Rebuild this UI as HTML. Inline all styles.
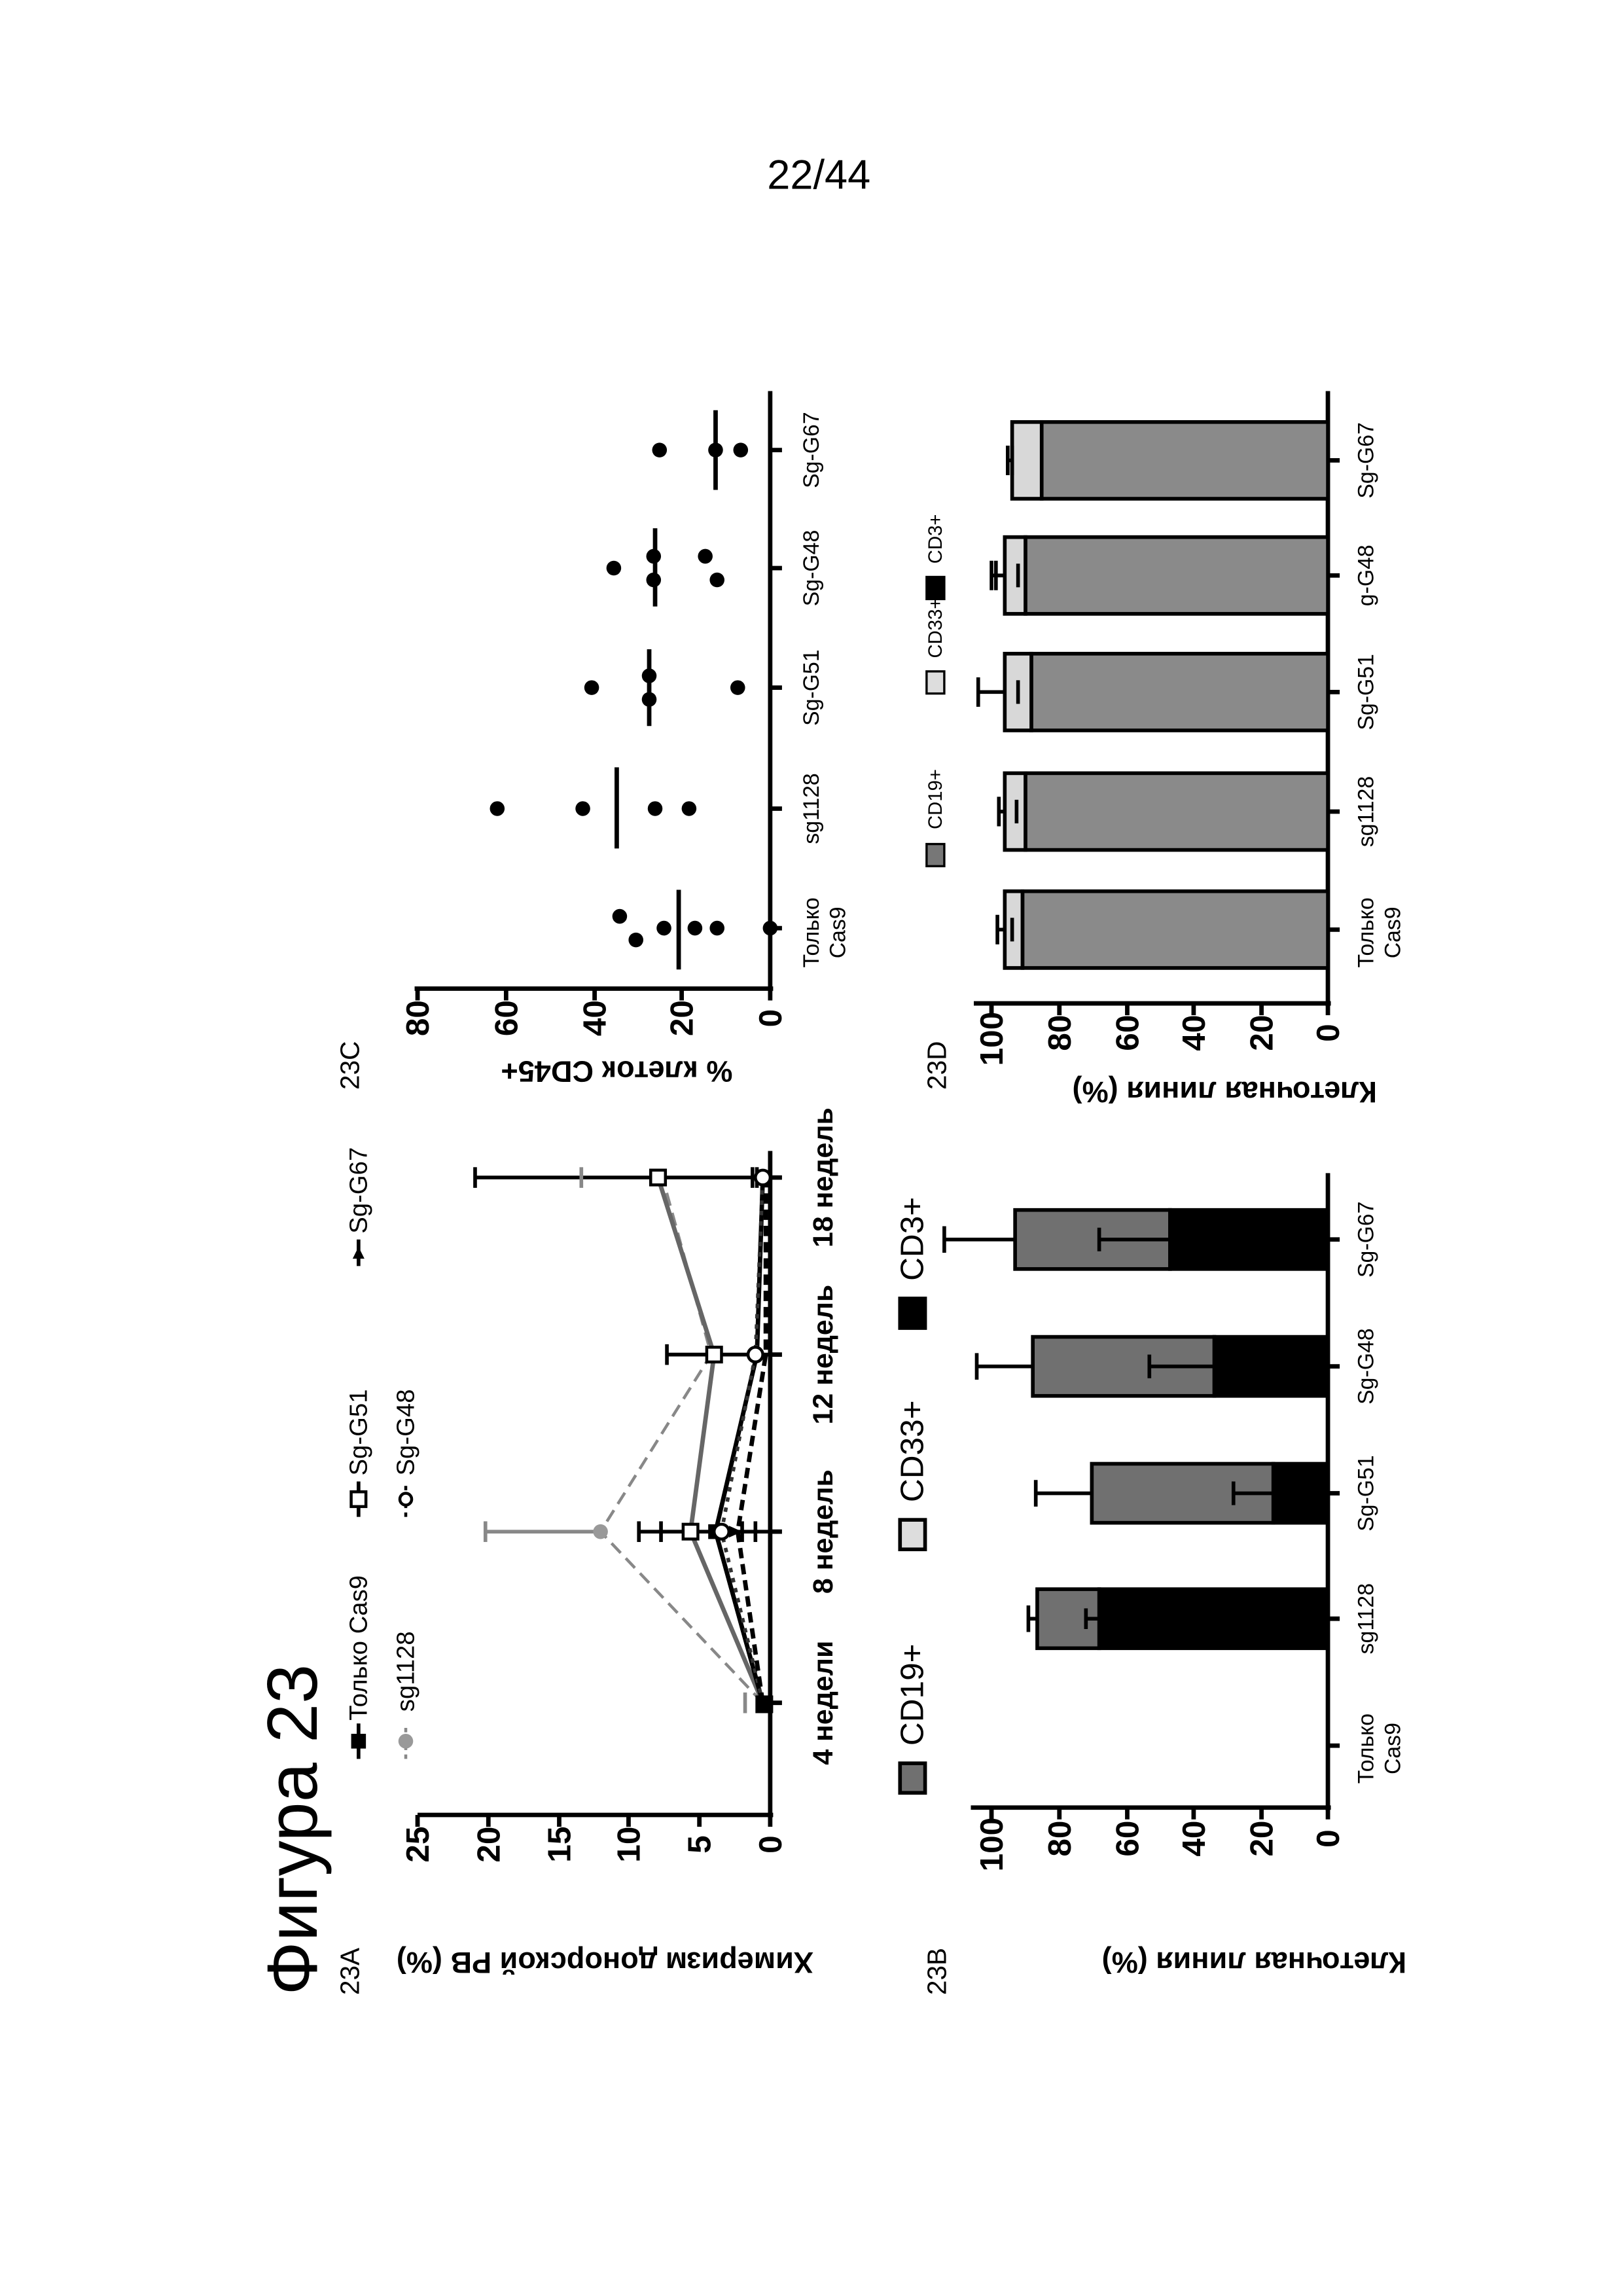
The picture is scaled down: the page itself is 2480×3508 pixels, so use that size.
<!DOCTYPE html>
<html><head><meta charset="utf-8"><style>
html,body{margin:0;padding:0;background:#fff}
svg{display:block}
text{font-family:"Liberation Sans","DejaVu Sans",sans-serif;fill:#000}
.n{font-family:"Liberation Sans Narrow","Liberation Sans",sans-serif}
.b{font-weight:bold}
</style></head><body>
<svg width="2480" height="3508" viewBox="0 0 1100 1556" xmlns="http://www.w3.org/2000/svg">
<rect width="1100" height="1556" fill="#fff"/>
<text x="555" y="128" font-size="28" text-anchor="middle" class="n">22/44</text>

<text transform="translate(198,1240) rotate(-90)" font-size="48" text-anchor="middle" dominant-baseline="central">Фигура 23</text>
<text transform="translate(237,1336) rotate(-90)" font-size="18" text-anchor="middle" dominant-baseline="central" class="n">23A</text>
<text transform="translate(635,1336) rotate(-90)" font-size="18" text-anchor="middle" dominant-baseline="central" class="n">23B</text>
<text transform="translate(237,722) rotate(-90)" font-size="18" text-anchor="middle" dominant-baseline="central" class="n">23C</text>
<text transform="translate(635,722) rotate(-90)" font-size="18" text-anchor="middle" dominant-baseline="central" class="n">23D</text>

<!-- 23A -->
<g stroke="#000" stroke-width="3" fill="none">
<line x1="283" y1="1230" x2="524" y2="1230"/>
<line x1="522" y1="1232" x2="522" y2="780"/>
<line x1="283" y1="1230" x2="283" y2="1238"/><line x1="331" y1="1230" x2="331" y2="1238"/><line x1="379" y1="1230" x2="379" y2="1238"/><line x1="426" y1="1230" x2="426" y2="1238"/><line x1="474" y1="1230" x2="474" y2="1238"/><line x1="522" y1="1230" x2="522" y2="1238"/>
<line x1="522" y1="1154" x2="530" y2="1154"/><line x1="522" y1="1038" x2="530" y2="1038"/><line x1="522" y1="918" x2="530" y2="918"/><line x1="522" y1="798" x2="530" y2="798"/>
</g>
<g font-size="22" class="b" text-anchor="middle" dominant-baseline="central">
<text transform="translate(283,1250) rotate(-90)">25</text><text transform="translate(331,1250) rotate(-90)">20</text><text transform="translate(379,1250) rotate(-90)">15</text><text transform="translate(426,1250) rotate(-90)">10</text><text transform="translate(474,1250) rotate(-90)">5</text><text transform="translate(522,1250) rotate(-90)">0</text>
<text transform="translate(558,1154) rotate(-90)" font-size="19">4 недели</text>
<text transform="translate(558,1038) rotate(-90)" font-size="19">8 недель</text>
<text transform="translate(558,918) rotate(-90)" font-size="19">12 недель</text>
<text transform="translate(558,798) rotate(-90)" font-size="19">18 недель</text>
<text transform="translate(410,1330) rotate(180)" font-size="20">Химеризм донорской PB (%)</text>
</g>
<g stroke="#000" stroke-width="2.5">
<line x1="433" y1="1038" x2="522" y2="1038"/><line x1="433" y1="1031" x2="433" y2="1045"/>
<line x1="448" y1="1031" x2="448" y2="1045"/>
<line x1="503" y1="1031" x2="503" y2="1045"/><line x1="512" y1="1031" x2="512" y2="1045"/>
<line x1="452" y1="918" x2="522" y2="918"/><line x1="452" y1="911" x2="452" y2="925"/>
<line x1="322" y1="798" x2="522" y2="798"/><line x1="322" y1="791" x2="322" y2="805"/>
<line x1="510" y1="791" x2="510" y2="805"/><line x1="513" y1="791" x2="513" y2="805"/>
</g>
<g stroke="#888" stroke-width="2.5">
<line x1="329" y1="1038" x2="408" y2="1038"/><line x1="329" y1="1031" x2="329" y2="1045"/>
<line x1="394" y1="791" x2="394" y2="805"/>
<line x1="505" y1="1147" x2="505" y2="1161"/>
</g>
<polyline points="517,1154 407,1038 482,918 449,798" fill="none" stroke="#888" stroke-width="2" stroke-dasharray="9,5"/>
<polyline points="517,1154 468,1038 484,918 446,798" fill="none" stroke="#666" stroke-width="3"/>
<polyline points="517,1154 485,1038 513,918 517,798" fill="none" stroke="#000" stroke-width="3"/>
<polyline points="517,1154 489,1038 512,918 517,798" fill="none" stroke="#333" stroke-width="2.5" stroke-dasharray="3,4"/>
<polyline points="517,1154 500,1038 519,918 519,798" fill="none" stroke="#000" stroke-width="3" stroke-dasharray="7,4"/>
<circle cx="407" cy="1038" r="5" fill="#999"/>
<rect x="512" y="1149" width="12" height="12" fill="#000"/>
<rect x="463" y="1033" width="10" height="10" fill="#fff" stroke="#000" stroke-width="2"/>
<rect x="479" y="913" width="10" height="10" fill="#fff" stroke="#000" stroke-width="2"/>
<rect x="441" y="793" width="10" height="10" fill="#fff" stroke="#000" stroke-width="2"/>
<rect x="480" y="1033" width="10" height="10" fill="#000"/>
<circle cx="489" cy="1038" r="5" fill="#fff" stroke="#000" stroke-width="2"/>
<circle cx="512" cy="918" r="5" fill="#fff" stroke="#000" stroke-width="2"/>
<circle cx="517" cy="798" r="5" fill="#fff" stroke="#000" stroke-width="2"/>
<polygon points="494,1034 494,1042 503,1038" fill="#000"/>
<g stroke="#000" stroke-width="2.5">
<line x1="243" y1="1192" x2="243" y2="1168"/><line x1="243" y1="1028" x2="243" y2="1004"/><line x1="243" y1="858" x2="243" y2="840"/>
</g>
<line x1="275" y1="1192" x2="275" y2="1168" stroke="#888" stroke-width="2" stroke-dasharray="3,3"/>
<line x1="275" y1="1028" x2="275" y2="1004" stroke="#000" stroke-width="2" stroke-dasharray="3,3"/>
<rect x="238" y="1175" width="10" height="10" fill="#000"/>
<rect x="238" y="1011" width="10" height="10" fill="#fff" stroke="#000" stroke-width="2"/>
<polygon points="239,853 247,853 243,845" fill="#000"/>
<circle cx="275" cy="1180" r="5" fill="#999"/>
<circle cx="275" cy="1016" r="4" fill="#fff" stroke="#000" stroke-width="2"/>
<g font-size="17" class="n" dominant-baseline="central">
<text transform="translate(243,1166) rotate(-90)">Только Cas9</text>
<text transform="translate(243,1000) rotate(-90)">Sg-G51</text>
<text transform="translate(243,836) rotate(-90)">Sg-G67</text>
<text transform="translate(275,1160) rotate(-90)">sg1128</text>
<text transform="translate(275,1000) rotate(-90)">Sg-G48</text>
</g>

<!-- 23B -->
<g stroke="#000" stroke-width="3" fill="none">
<line x1="658" y1="1225" x2="902" y2="1225"/>
<line x1="900" y1="1227" x2="900" y2="795"/>
<line x1="672" y1="1225" x2="672" y2="1233"/><line x1="718" y1="1225" x2="718" y2="1233"/><line x1="764" y1="1225" x2="764" y2="1233"/><line x1="809" y1="1225" x2="809" y2="1233"/><line x1="855" y1="1225" x2="855" y2="1233"/><line x1="900" y1="1225" x2="900" y2="1233"/>
<line x1="900" y1="1183" x2="908" y2="1183"/><line x1="900" y1="1097" x2="908" y2="1097"/><line x1="900" y1="1012" x2="908" y2="1012"/><line x1="900" y1="926" x2="908" y2="926"/><line x1="900" y1="840" x2="908" y2="840"/>
</g>
<g font-size="22" class="b" text-anchor="middle" dominant-baseline="central">
<text transform="translate(672,1250) rotate(-90)">100</text><text transform="translate(718,1246) rotate(-90)">80</text><text transform="translate(764,1246) rotate(-90)">60</text><text transform="translate(809,1246) rotate(-90)">40</text><text transform="translate(855,1246) rotate(-90)">20</text><text transform="translate(900,1246) rotate(-90)">0</text>
<text transform="translate(850,1330) rotate(180)" font-size="20">Клеточная линия (%)</text>
<text transform="translate(830,740) rotate(180)" font-size="20">Клеточная линия (%)</text>
<text transform="translate(418,726) rotate(180)" font-size="20">% клеток CD45+</text>
</g>
<g font-size="15" class="n" text-anchor="middle" dominant-baseline="central">
<text transform="translate(926,1185) rotate(-90)">Только</text><text transform="translate(944,1185) rotate(-90)">Cas9</text>
<text transform="translate(926,1097) rotate(-90)">sg1128</text>
<text transform="translate(926,1012) rotate(-90)">Sg-G51</text>
<text transform="translate(926,926) rotate(-90)">Sg-G48</text>
<text transform="translate(926,840) rotate(-90)">Sg-G67</text>
</g>
<g stroke="#000" stroke-width="2.5">
<rect x="745" y="1077" width="155" height="40" fill="#000"/>
<rect x="703" y="1077" width="42" height="40" fill="#707070"/>
<rect x="863" y="992" width="37" height="40" fill="#000"/>
<rect x="740" y="992" width="123" height="40" fill="#707070"/>
<rect x="823" y="906" width="77" height="40" fill="#000"/>
<rect x="700" y="906" width="123" height="40" fill="#707070"/>
<rect x="793" y="820" width="107" height="40" fill="#000"/>
<rect x="688" y="820" width="105" height="40" fill="#707070"/>
<line x1="697" y1="1097" x2="703" y2="1097"/><line x1="697" y1="1088" x2="697" y2="1106"/>
<line x1="736" y1="1097" x2="745" y2="1097"/><line x1="736" y1="1090" x2="736" y2="1104"/>
<line x1="702" y1="1012" x2="740" y2="1012"/><line x1="702" y1="1003" x2="702" y2="1021"/>
<line x1="836" y1="1012" x2="863" y2="1012"/><line x1="836" y1="1004" x2="836" y2="1020"/>
<line x1="662" y1="926" x2="700" y2="926"/><line x1="662" y1="917" x2="662" y2="935"/>
<line x1="779" y1="926" x2="823" y2="926"/><line x1="779" y1="918" x2="779" y2="934"/>
<line x1="640" y1="840" x2="688" y2="840"/><line x1="640" y1="831" x2="640" y2="849"/>
<line x1="745" y1="840" x2="793" y2="840"/><line x1="745" y1="832" x2="745" y2="848"/>
<rect x="610" y="1195" width="17" height="20" fill="#707070"/>
<rect x="610" y="1030" width="17" height="20" fill="#ddd"/>
<rect x="610" y="880" width="17" height="20" fill="#000"/>
</g>
<g font-size="22" class="n" dominant-baseline="central">
<text transform="translate(618,1183) rotate(-90)">CD19+</text>
<text transform="translate(618,1018) rotate(-90)">CD33+</text>
<text transform="translate(618,868) rotate(-90)">CD3+</text>
</g>

<!-- 23C -->
<g stroke="#000" stroke-width="3" fill="none">
<line x1="281" y1="670" x2="524" y2="670"/>
<line x1="522" y1="672" x2="522" y2="265"/>
<line x1="283" y1="670" x2="283" y2="678"/><line x1="343" y1="670" x2="343" y2="678"/><line x1="403" y1="670" x2="403" y2="678"/><line x1="462" y1="670" x2="462" y2="678"/><line x1="522" y1="670" x2="522" y2="678"/>
<line x1="522" y1="629" x2="530" y2="629"/><line x1="522" y1="548" x2="530" y2="548"/><line x1="522" y1="466" x2="530" y2="466"/><line x1="522" y1="385" x2="530" y2="385"/><line x1="522" y1="305" x2="530" y2="305"/>
</g>
<g font-size="22" class="b" text-anchor="middle" dominant-baseline="central">
<text transform="translate(283,690) rotate(-90)">80</text><text transform="translate(343,690) rotate(-90)">60</text><text transform="translate(403,690) rotate(-90)">40</text><text transform="translate(462,690) rotate(-90)">20</text><text transform="translate(522,690) rotate(-90)">0</text>
</g>
<g font-size="15" class="n" text-anchor="middle" dominant-baseline="central">
<text transform="translate(550,632) rotate(-90)">Только</text><text transform="translate(568,632) rotate(-90)">Cas9</text>
<text transform="translate(550,548) rotate(-90)">sg1128</text>
<text transform="translate(550,466) rotate(-90)">Sg-G51</text>
<text transform="translate(550,385) rotate(-90)">Sg-G48</text>
<text transform="translate(550,305) rotate(-90)">Sg-G67</text>
</g>
<g fill="#000">
<circle cx="522" cy="629" r="5"/><circle cx="486" cy="629" r="5"/><circle cx="471" cy="629" r="5"/><circle cx="450" cy="629" r="5"/><circle cx="431" cy="637" r="5"/><circle cx="420" cy="621" r="5"/>
<circle cx="337" cy="548" r="5"/><circle cx="395" cy="548" r="5"/><circle cx="444" cy="548" r="5"/><circle cx="467" cy="548" r="5"/>
<circle cx="401" cy="466" r="5"/><circle cx="440" cy="458" r="5"/><circle cx="440" cy="474" r="5"/><circle cx="500" cy="466" r="5"/>
<circle cx="416" cy="385" r="5"/><circle cx="443" cy="377" r="5"/><circle cx="443" cy="393" r="5"/><circle cx="478" cy="377" r="5"/><circle cx="486" cy="393" r="5"/>
<circle cx="447" cy="305" r="5"/><circle cx="485" cy="305" r="5"/><circle cx="502" cy="305" r="5"/>
</g>
<g stroke="#000" stroke-width="3">
<line x1="460" y1="603" x2="460" y2="657"/>
<line x1="418" y1="520" x2="418" y2="575"/>
<line x1="440" y1="440" x2="440" y2="492"/>
<line x1="444" y1="358" x2="444" y2="411"/>
<line x1="485" y1="278" x2="485" y2="332"/>
</g>

<!-- 23D -->
<g stroke="#000" stroke-width="3" fill="none">
<line x1="660" y1="680" x2="902" y2="680"/>
<line x1="900" y1="682" x2="900" y2="265"/>
<line x1="672" y1="680" x2="672" y2="688"/><line x1="718" y1="680" x2="718" y2="688"/><line x1="764" y1="680" x2="764" y2="688"/><line x1="809" y1="680" x2="809" y2="688"/><line x1="855" y1="680" x2="855" y2="688"/><line x1="900" y1="680" x2="900" y2="688"/>
<line x1="900" y1="630" x2="908" y2="630"/><line x1="900" y1="550" x2="908" y2="550"/><line x1="900" y1="469" x2="908" y2="469"/><line x1="900" y1="390" x2="908" y2="390"/><line x1="900" y1="312" x2="908" y2="312"/>
</g>
<g font-size="22" class="b" text-anchor="middle" dominant-baseline="central">
<text transform="translate(672,704) rotate(-90)">100</text><text transform="translate(718,700) rotate(-90)">80</text><text transform="translate(764,700) rotate(-90)">60</text><text transform="translate(809,700) rotate(-90)">40</text><text transform="translate(855,700) rotate(-90)">20</text><text transform="translate(900,700) rotate(-90)">0</text>
</g>
<g font-size="15" class="n" text-anchor="middle" dominant-baseline="central">
<text transform="translate(926,632) rotate(-90)">Только</text><text transform="translate(944,632) rotate(-90)">Cas9</text>
<text transform="translate(926,550) rotate(-90)">sg1128</text>
<text transform="translate(926,469) rotate(-90)">Sg-G51</text>
<text transform="translate(926,390) rotate(-90)">g-G48</text>
<text transform="translate(926,312) rotate(-90)">Sg-G67</text>
</g>
<g stroke="#000" stroke-width="2.5">
<rect x="693" y="604" width="207" height="52" fill="#8a8a8a"/><rect x="681" y="604" width="12" height="52" fill="#d8d8d8"/>
<rect x="695" y="524" width="205" height="52" fill="#8a8a8a"/><rect x="681" y="524" width="14" height="52" fill="#d8d8d8"/>
<rect x="699" y="443" width="201" height="52" fill="#8a8a8a"/><rect x="681" y="443" width="18" height="52" fill="#d8d8d8"/>
<rect x="695" y="364" width="205" height="52" fill="#8a8a8a"/><rect x="681" y="364" width="14" height="52" fill="#d8d8d8"/>
<rect x="706" y="286" width="194" height="52" fill="#8a8a8a"/><rect x="686" y="286" width="20" height="52" fill="#d8d8d8"/>
<line x1="676" y1="630" x2="681" y2="630"/><line x1="676" y1="620" x2="676" y2="640"/><line x1="686" y1="622" x2="686" y2="638"/>
<line x1="677" y1="550" x2="681" y2="550"/><line x1="677" y1="540" x2="677" y2="560"/><line x1="689" y1="542" x2="689" y2="558"/>
<line x1="663" y1="469" x2="681" y2="469"/><line x1="663" y1="459" x2="663" y2="479"/><line x1="690" y1="461" x2="690" y2="477"/>
<line x1="672" y1="390" x2="681" y2="390"/><line x1="672" y1="380" x2="672" y2="400"/><line x1="675" y1="380" x2="675" y2="400"/><line x1="690" y1="382" x2="690" y2="398"/>
<line x1="683" y1="312" x2="686" y2="312"/><line x1="683" y1="302" x2="683" y2="322"/><line x1="686" y1="302" x2="686" y2="322"/>
<rect x="628" y="572" width="12" height="15" fill="#777" stroke-width="1.5"/>
<rect x="628" y="455" width="12" height="15" fill="#ddd" stroke-width="1.5"/>
<rect x="628" y="391" width="12" height="15" fill="#000" stroke-width="1.5"/>
</g>
<g font-size="13" class="n" dominant-baseline="central" fill="#444">
<text transform="translate(634,562) rotate(-90)">CD19+</text>
<text transform="translate(634,446) rotate(-90)">CD33+</text>
<text transform="translate(634,382) rotate(-90)">CD3+</text>
</g>
</svg>
</body></html>
